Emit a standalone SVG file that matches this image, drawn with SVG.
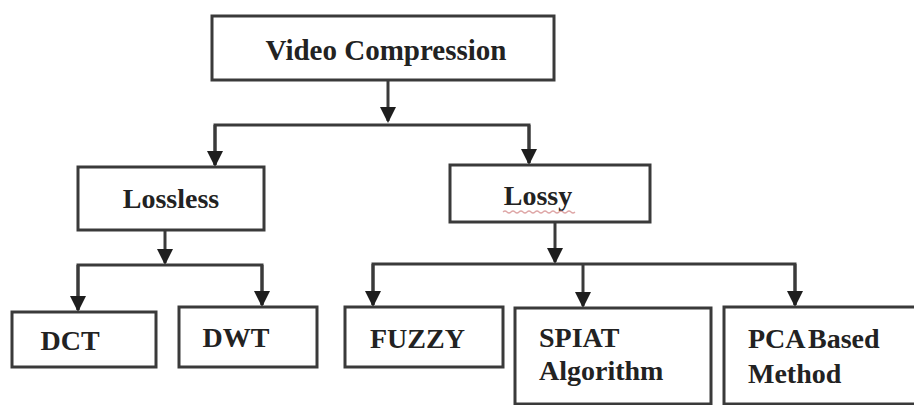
<svg xmlns="http://www.w3.org/2000/svg" width="914" height="405" viewBox="0 0 914 405">
  <style>
    .box { fill: #ffffff; stroke: #3a3a3a; stroke-width: 3; }
    .lbl { font-family: 'Liberation Serif', 'DejaVu Serif', serif; font-weight: bold; font-size: 28px; fill: #222222; }
    .con { fill: none; stroke: #3a3a3a; stroke-width: 3; }
  </style>
  <defs>
    <marker id="ah" viewBox="0 0 16 16" refX="14" refY="8" markerWidth="16" markerHeight="16" markerUnits="userSpaceOnUse" orient="auto">
      <path d="M0,0 L16,8 L0,16 z" fill="#1e1e1e"/>
    </marker>
  </defs>
  <rect width="914" height="405" fill="#ffffff"/>

  <g id="connectors">
    <path class="con" d="M388,80 V121" marker-end="url(#ah)"/>
    <path class="con" d="M215,165 V125 H529 V163"/>
    <path class="con" d="M215,125 V165" marker-end="url(#ah)"/>
    <path class="con" d="M529,125 V163" marker-end="url(#ah)"/>

    <path class="con" d="M165,230 V263" marker-end="url(#ah)"/>
    <path class="con" d="M78,310 V265 H262 V305"/>
    <path class="con" d="M78,265 V310" marker-end="url(#ah)"/>
    <path class="con" d="M262,265 V305" marker-end="url(#ah)"/>

    <path class="con" d="M555,222 V262" marker-end="url(#ah)"/>
    <path class="con" d="M373,305 V264 H795 V305"/>
    <path class="con" d="M373,264 V305" marker-end="url(#ah)"/>
    <path class="con" d="M583,264 V306" marker-end="url(#ah)"/>
    <path class="con" d="M795,264 V305" marker-end="url(#ah)"/>
  </g>

  <g id="node-video">
    <rect class="box" x="212" y="16" width="342" height="64"/>
    <text class="lbl" x="386" y="60" text-anchor="middle" font-family="Liberation Serif, serif" style="font-size:29px">Video Compression</text>
  </g>
  <g id="node-lossless">
    <rect class="box" x="78" y="167" width="186" height="63"/>
    <text class="lbl" x="171" y="208" text-anchor="middle">Lossless</text>
  </g>
  <g id="node-lossy">
    <rect class="box" x="450" y="165" width="200" height="57"/>
    <text class="lbl" x="538" y="205" text-anchor="middle">Lossy</text>
    <path d="M503,212 q2,-2 4,0 t4,0 t4,0 t4,0 t4,0 t4,0 t4,0 t4,0 t4,0 t4,0 t4,0 t4,0 t4,0 t4,0 t4,0 t4,0 t4,0 t4,0" fill="none" stroke="#d08080" stroke-width="1.2" opacity="0.7"/>
  </g>
  <g id="node-dct">
    <rect class="box" x="12" y="312" width="144" height="55"/>
    <text class="lbl" x="70" y="350" text-anchor="middle">DCT</text>
  </g>
  <g id="node-dwt">
    <rect class="box" x="179" y="307" width="138" height="60"/>
    <text class="lbl" x="236" y="347" text-anchor="middle">DWT</text>
  </g>
  <g id="node-fuzzy">
    <rect class="box" x="345" y="307" width="158" height="60"/>
    <text class="lbl" x="370" y="348">FUZZY</text>
  </g>
  <g id="node-spiat">
    <rect class="box" x="515" y="308" width="196" height="96"/>
    <text class="lbl" x="539" y="347">SPIAT</text>
    <text class="lbl" x="539" y="380">Algorithm</text>
  </g>
  <g id="node-pca">
    <rect class="box" x="724" y="307" width="194" height="97"/>
    <text class="lbl" x="748" y="348" word-spacing="-3">PCA Based</text>
    <text class="lbl" x="748" y="383">Method</text>
  </g>
</svg>
